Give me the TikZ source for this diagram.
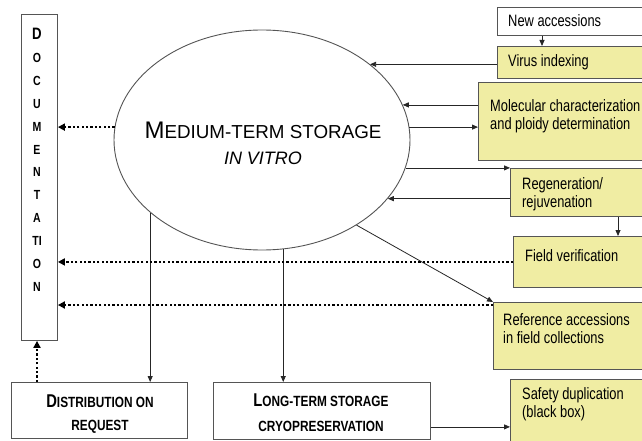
\documentclass[tikz,border=0pt]{standalone}
\usepackage{fontspec}
\setmainfont{Liberation Sans}
\newfontfamily\narrowsf[FakeStretch=0.78]{Liberation Sans}
\newfontfamily\capsf[FakeStretch=0.8]{Liberation Sans}
\usetikzlibrary{arrows.meta,shapes.geometric,calc}
\definecolor{boxfill}{RGB}{240,237,163}
\definecolor{edge}{RGB}{85,85,85}

\begin{document}
\begin{tikzpicture}[x=1pt,y=-1pt,
  box/.style={draw=edge, line width=0.9pt, anchor=north west, inner sep=0pt},
  ybox/.style={box, fill=boxfill},
  wbox/.style={box, fill=white},
  lbl/.style={font=\narrowsf\fontsize{16.5}{18}\selectfont, anchor=west, align=left, inner sep=0pt},
  caps/.style={font=\capsf\bfseries\fontsize{14.8}{23}\selectfont, align=center, inner sep=0pt},
  arr/.style={draw=black!85, line width=0.8pt, -{Triangle[length=6pt,width=5pt]}},
  dots/.style={line width=2.2pt, dash pattern=on 2.2pt off 2.2pt, -{Triangle[length=7pt,width=7pt]}},
]
\clip (0,0) rectangle (642,441);
\fill[white] (0,0) rectangle (642,441);

% boxes on the right
\node[wbox, minimum width=160, minimum height=28] (na) at (497,7) {};
\node[ybox, minimum width=160, minimum height=32] (vi) at (497,46) {};
\node[ybox, minimum width=180, minimum height=78] (mc) at (478,82) {};
\node[ybox, minimum width=150, minimum height=48] (rg) at (510,168) {};
\node[ybox, minimum width=150, minimum height=51] (fv) at (513,236) {};
\node[ybox, minimum width=160, minimum height=67] (ra) at (493,302) {};
\node[ybox, minimum width=150, minimum height=80] (sd) at (510,379) {};

% documentation column and bottom boxes
\node[wbox, minimum width=36, minimum height=326] (doc) at (21,14) {};
\node[wbox, minimum width=176, minimum height=56] (dr) at (11,382) {};
\node[wbox, minimum width=217, minimum height=57] (lt) at (213,382) {};

% central storage ellipse and its title
\node[ellipse, draw=edge, line width=0.9pt, minimum width=296, minimum height=220,
      inner sep=0pt] (e) at (262,140) {};
\node[align=center, inner sep=0pt, font=\fontsize{18.8}{26}\selectfont] (te) at (263,143)
  {{\fontsize{24}{26}\selectfont M}EDIUM-TERM STORAGE\\{\itshape\fontsize{18}{26}\selectfont IN VITRO}};

% labels
\node[lbl] (tna) at (508,21) {New accessions};
\node[lbl] (tvi) at (508,62) {Virus indexing};
\node[lbl] (tmc) at (490,116) {Molecular characterization\\and ploidy determination};
\node[lbl] (trg) at (522,194) {Regeneration/\\rejuvenation};
\node[lbl] (tfv) at (525,256) {Field verification};
\node[lbl] (tra) at (503,329) {Reference accessions\\in field collections};
\node[lbl] (tsd) at (522,404) {Safety duplication\\(black box)};

\node[caps, font=\capsf\bfseries\fontsize{13.2}{22.9}\selectfont, anchor=north] (tdoc) at (37,28)
  {{\fontsize{16.5}{22.9}\selectfont D}\\O\\C\\U\\M\\E\\N\\T\\A\\TI\\O\\N};
\node[caps] (tdr) at (100,414) {{\fontsize{18.5}{23}\selectfont D}ISTRIBUTION ON\\REQUEST};
\node[caps, font=\capsf\bfseries\fontsize{14.8}{25}\selectfont] (tlt) at (321,413)
  {{\fontsize{18.5}{25}\selectfont L}ONG-TERM STORAGE\\CRYOPRESERVATION};

% solid connectors
\draw[arr] (vi.west |- e.35) -- (e.35);
\draw[arr] (mc.west |- e.14) -- (e.14);
\draw[arr] (e.5) -- (e.5 -| mc.west);
\draw[arr] (e.349) -- (e.349 -| rg.west);
\draw[arr] (rg.west |- e.335) -- (e.335);
\draw[arr] (e.318) -- (ra.north west);
\draw[arr] (e.213) -- (e.213 |- dr.north);
\draw[arr] (e.281) -- (e.281 |- lt.north);
\coordinate (nadown) at ([xshift=45pt]na.south west);
\draw[arr] (nadown) -- (nadown |- vi.north);
\coordinate (rgdown) at ([xshift=108pt]rg.south west);
\draw[arr] (rgdown) -- (rgdown |- fv.north);
\coordinate (ltout) at ([yshift=13pt]lt.south east);
\draw[arr] (ltout) -- (ltout -| sd.west);

% dotted links to the documentation
\draw[dots] (e.175) -- (e.175 -| doc.east);
\draw[dots] (fv.west) -- (fv.west -| doc.east);
\coordinate (radot) at ([yshift=-3pt]ra.north west);
\draw[dots] (radot) -- (radot -| doc.east);
\coordinate (drup) at ([xshift=26pt]dr.north west);
\draw[dots] (drup) -- (drup |- doc.south);
\end{tikzpicture}
\end{document}
